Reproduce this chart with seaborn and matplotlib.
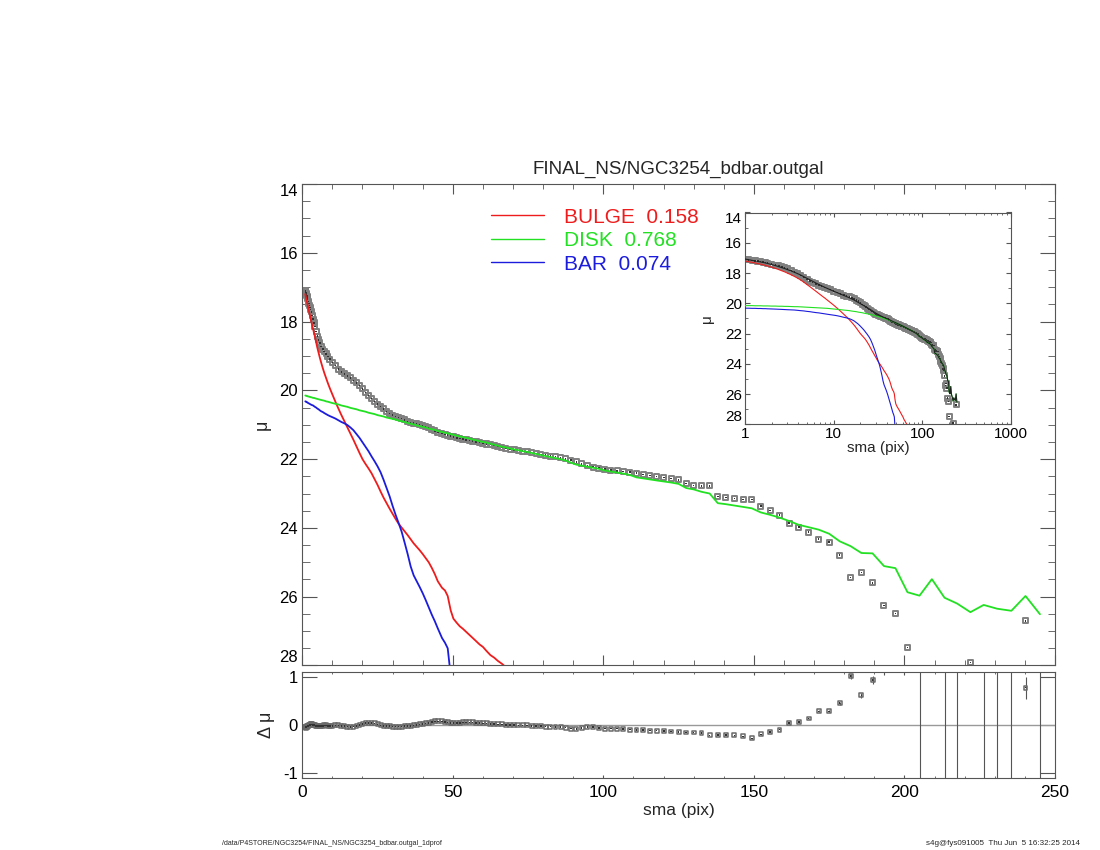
import numpy as np
import pandas as pd
import seaborn as sns
import matplotlib
matplotlib.use('Agg')
import matplotlib.pyplot as plt
from matplotlib.ticker import MultipleLocator, LogLocator, NullFormatter

sns.set_style('ticks')
plt.rcParams['font.family'] = ['Liberation Sans', 'DejaVu Sans']
plt.rcParams['axes.unicode_minus'] = False

# semi-major axis of the isophotes (pix)
sma = [
    1.0, 1.1, 1.2, 1.3, 1.4, 1.5, 1.6, 1.7, 1.8, 2.0,
    2.2, 2.4, 2.6, 2.8, 3.0, 3.3, 3.6, 3.9, 4.2, 4.6,
    5.0, 5.4, 5.8, 6.3, 6.8, 7.3, 7.9, 8.5, 9.2, 10.0,
    11, 12, 13, 14, 15, 16, 17, 18, 19, 20,
    21, 22, 23, 24, 25, 26, 27, 28, 29, 30,
    31, 32, 33, 34, 35, 36, 37, 38, 39, 40,
    41, 42, 43, 44, 45, 46.4, 47.4, 48.3, 49.3, 50.2,
    51.3, 52.3, 53.3, 54.4, 55.5, 56.6, 57.7, 58.9, 60.0, 61.2,
    62.5, 63.7, 65.0, 66.3, 67.6, 69.0, 70.4, 71.8, 73.2, 74.7,
    76.2, 77.7, 79.2, 80.8, 82.4, 84.1, 85.8, 87.5, 89.2, 91.0,
    92.8, 94.7, 96.6, 98.5, 100.5, 102.5, 104.6, 106.6, 108.8, 111.0,
    113.2, 115.4, 117.7, 120.1, 122.5, 125.0, 127.5, 130.0, 132.6, 135.3,
    138.0, 140.7, 143.5, 146.4, 149.3, 152.3, 155.4, 158.5, 161.7, 164.9,
    168.2, 171.5, 175.0, 178.5, 182.1, 185.7, 189.4, 193.2, 197.0, 201.0,
    205.0, 209.1, 213.3, 217.5, 221.9, 226.3, 230.8, 235.5, 240.2, 245.0,
]

# observed surface brightness
mu_data = [
    17.10, 17.13, 17.16, 17.19, 17.22, 17.25, 17.28, 17.31, 17.34, 17.41,
    17.47, 17.53, 17.59, 17.65, 17.72, 17.82, 17.93, 18.04, 18.15, 18.29,
    18.42, 18.53, 18.62, 18.72, 18.80, 18.87, 18.94, 19.01, 19.09, 19.19,
    19.28, 19.38, 19.46, 19.52, 19.58, 19.64, 19.71, 19.78, 19.86, 19.96,
    20.06, 20.15, 20.24, 20.32, 20.40, 20.47, 20.54, 20.61, 20.67, 20.72,
    20.76, 20.79, 20.82, 20.86, 20.90, 20.93, 20.95, 20.97, 20.99, 21.02,
    21.05, 21.09, 21.14, 21.18, 21.22, 21.25, 21.28, 21.30, 21.33, 21.35,
    21.38, 21.40, 21.42, 21.44, 21.46, 21.48, 21.50, 21.52, 21.54, 21.56,
    21.58, 21.61, 21.63, 21.66, 21.68, 21.71, 21.73, 21.75, 21.77, 21.79,
    21.81, 21.83, 21.86, 21.88, 21.91, 21.93, 21.96, 21.99, 22.03, 22.08,
    22.14, 22.19, 22.23, 22.26, 22.29, 22.32, 22.34, 22.36, 22.38, 22.41,
    22.44, 22.48, 22.51, 22.54, 22.56, 22.60, 22.71, 22.76, 22.78, 22.78,
    23.08, 23.12, 23.14, 23.18, 23.18, 23.37, 23.50, 23.63, 23.86, 23.98,
    24.12, 24.33, 24.41, 24.79, 25.44, 25.29, 25.60, 26.26, 26.49, 27.48,
    np.nan, np.nan, np.nan, np.nan, 27.91, np.nan, np.nan, np.nan, 26.70, np.nan,
]

# disk model, on the same sma grid
mu_disk = [
    20.15, 20.15, 20.15, 20.16, 20.16, 20.16, 20.17, 20.17, 20.17, 20.18,
    20.18, 20.19, 20.19, 20.20, 20.20, 20.21, 20.22, 20.22, 20.23, 20.24,
    20.25, 20.26, 20.27, 20.28, 20.29, 20.30, 20.32, 20.33, 20.35, 20.37,
    20.39, 20.41, 20.44, 20.46, 20.48, 20.51, 20.53, 20.55, 20.58, 20.60,
    20.62, 20.65, 20.67, 20.69, 20.72, 20.74, 20.76, 20.79, 20.81, 20.83,
    20.85, 20.88, 20.90, 20.92, 20.95, 20.97, 20.99, 21.02, 21.04, 21.06,
    21.08, 21.11, 21.13, 21.15, 21.18, 21.21, 21.23, 21.25, 21.27, 21.29,
    21.32, 21.34, 21.36, 21.38, 21.40, 21.43, 21.45, 21.48, 21.50, 21.52,
    21.55, 21.58, 21.61, 21.64, 21.66, 21.69, 21.72, 21.74, 21.77, 21.79,
    21.82, 21.85, 21.88, 21.91, 21.94, 21.97, 22.00, 22.04, 22.10, 22.16,
    22.19, 22.22, 22.25, 22.28, 22.33, 22.36, 22.39, 22.42, 22.46, 22.53,
    22.56, 22.59, 22.62, 22.65, 22.68, 22.72, 22.84, 22.88, 22.95, 23.00,
    23.28, 23.31, 23.35, 23.39, 23.43, 23.55, 23.62, 23.70, 23.80, 23.91,
    23.98, 24.05, 24.17, 24.39, 24.53, 24.73, 24.74, 25.11, 25.17, 25.87,
    25.97, 25.49, 26.03, 26.20, 26.45, 26.24, 26.35, 26.41, 25.98, 26.51,
]

# bulge model (first 86 sma values, fainter than the plot beyond)
mu_bulge = [
    17.20, 17.25, 17.29, 17.33, 17.37, 17.41, 17.45, 17.49, 17.53, 17.61,
    17.69, 17.77, 17.85, 17.92, 18.00, 18.11, 18.22, 18.33, 18.44, 18.60,
    18.76, 18.90, 19.04, 19.20, 19.35, 19.49, 19.64, 19.79, 19.95, 20.12,
    20.33, 20.53, 20.72, 20.90, 21.08, 21.26, 21.44, 21.63, 21.82, 22.00,
    22.14, 22.27, 22.41, 22.58, 22.75, 22.94, 23.12, 23.28, 23.44, 23.59,
    23.74, 23.88, 23.99, 24.10, 24.21, 24.33, 24.45, 24.55, 24.65, 24.76,
    24.88, 25.00, 25.16, 25.34, 25.55, 25.74, 25.82, 25.98, 26.40, 26.64,
    26.76, 26.86, 26.93, 27.02, 27.11, 27.20, 27.29, 27.39, 27.46, 27.58,
    27.70, 27.77, 27.87, 27.95, 28.05, 28.15,
]

# bar model (first 69 sma values)
mu_bar = [
    20.32, 20.32, 20.33, 20.33, 20.34, 20.34, 20.35, 20.35, 20.36, 20.37,
    20.38, 20.39, 20.40, 20.41, 20.42, 20.43, 20.44, 20.46, 20.48, 20.50,
    20.53, 20.55, 20.58, 20.61, 20.63, 20.66, 20.69, 20.72, 20.75, 20.78,
    20.82, 20.87, 20.92, 20.96, 21.01, 21.08, 21.16, 21.27, 21.38, 21.51,
    21.64, 21.77, 21.92, 22.06, 22.21, 22.38, 22.60, 22.84, 23.08, 23.36,
    23.62, 23.86, 24.11, 24.43, 24.76, 25.12, 25.38, 25.55, 25.72, 25.90,
    26.10, 26.31, 26.52, 26.71, 26.92, 27.20, 27.34, 27.50, 28.30,
]

# data - model
resid = [
    -0.04, -0.05, -0.04, -0.04, -0.03, -0.03, -0.03, -0.02, -0.02, -0.01,
    0.00, 0.01, 0.01, 0.02, 0.02, 0.02, 0.01, 0.01, 0.00, -0.01,
    -0.01, -0.02, -0.02, -0.01, -0.01, 0.00, 0.00, -0.01, -0.01, -0.01,
    0.00, 0.00, -0.01, -0.02, -0.03, -0.04, -0.03, -0.01, 0.01, 0.03,
    0.05, 0.05, 0.05, 0.04, 0.02, 0.00, -0.01, -0.02, -0.02, -0.03,
    -0.03, -0.03, -0.03, -0.02, -0.02, -0.01, 0.00, 0.01, 0.02, 0.03,
    0.04, 0.05, 0.07, 0.08, 0.08, 0.08, 0.07, 0.06, 0.05, 0.05,
    0.05, 0.05, 0.06, 0.06, 0.06, 0.06, 0.05, 0.05, 0.04, 0.04,
    0.03, 0.03, 0.02, 0.02, 0.01, 0.01, 0.01, 0.00, 0.00, 0.00,
    -0.01, -0.02, -0.02, -0.03, -0.03, -0.04, -0.04, -0.05, -0.07, -0.08,
    -0.06, -0.04, -0.04, -0.06, -0.07, -0.07, -0.07, -0.08, -0.09, -0.10,
    -0.10, -0.11, -0.11, -0.12, -0.13, -0.14, -0.15, -0.15, -0.16, -0.21,
    -0.20, -0.20, -0.21, -0.23, -0.27, -0.19, -0.14, -0.09, 0.05, 0.07,
    0.14, 0.29, 0.29, 0.46, 1.02, 0.62, 0.94, 1.15, 1.33, 1.62,
    2.0, np.nan, 2.0, 2.0, 1.46, 2.0, 2.0, 2.0, 0.78, 2.0,
]

# residual errors of the last 30 isophotes (inner ones are negligible)
resid_err_outer = [
    0.01, 0.01, 0.01, 0.01, 0.01, 0.01, 0.01, 0.01, 0.02, 0.02,
    0.02, 0.02, 0.02, 0.03, 0.05, 0.06, 0.08, 0.10, 0.10, 0.20,
    5.0, np.nan, 5.0, 5.0, 0.30, 5.0, 5.0, 5.0, 0.23, 5.0,
]

components = ['BULGE', 'DISK', 'BAR']
fractions = [0.158, 0.768, 0.074]
comp_cols = ['bulge', 'disk', 'bar']
colors = ['#ee1c1c', '#22e022', '#1c1cdc']

df = pd.DataFrame({'sma': sma, 'mu': mu_data, 'disk': mu_disk, 'resid': resid})
df['bulge'] = pd.Series(mu_bulge, dtype=float)
df['bar'] = pd.Series(mu_bar, dtype=float)

# total model = flux sum of the components
flux = sum(10 ** (-0.4 * df[c].fillna(np.inf)) for c in comp_cols)
df['total'] = -2.5 * np.log10(flux)

FRAME = '#555555'

fig = plt.figure(figsize=(11, 8.5), dpi=100)
ax = fig.add_axes([0.2748, 0.2171, 0.6843, 0.5664])
ax_res = fig.add_axes([0.2748, 0.0844, 0.6843, 0.1247])
ax_in = fig.add_axes([0.6773, 0.5006, 0.2418, 0.2494])


def draw_points(a, ycol, size, edge, lw):
    sns.scatterplot(data=df, x='sma', y=ycol, ax=a, marker='s', s=size,
                    facecolor='none', edgecolor=edge, linewidth=lw, zorder=2)
    sns.scatterplot(data=df, x='sma', y=ycol, ax=a, marker='s', s=1.2,
                    facecolor='#333333', edgecolor='none', linewidth=0, zorder=2.1)


def style_frame(a):
    for sp in a.spines.values():
        sp.set_color(FRAME)
        sp.set_linewidth(0.8)
        sp.set_visible(True)
    a.tick_params(which='both', direction='in', top=True, right=True,
                  color=FRAME, labelcolor='black')


def nudge_end_labels(a, top_txt, bottom_txt):
    # end labels are pulled inside the frame
    for lbl in a.get_yticklabels():
        if lbl.get_text() == top_txt:
            lbl.set_va('top')
        elif lbl.get_text() == bottom_txt:
            lbl.set_va('bottom')


# ---- main profile
draw_points(ax, 'mu', 13, '#808080', 1.4)
for col, name, frac, c in zip(comp_cols, components, fractions, colors):
    sns.lineplot(data=df, x='sma', y=col, ax=ax, color=c, lw=1.3,
                 estimator=None, sort=False, zorder=3,
                 label=f'{name}  {frac:.3f}')

ax.set_xlim(0, 250)
ax.set_ylim(28, 14)
ax.xaxis.set_major_locator(MultipleLocator(50))
ax.xaxis.set_minor_locator(MultipleLocator(10))
ax.yaxis.set_major_locator(MultipleLocator(2))
ax.yaxis.set_minor_locator(MultipleLocator(0.5))
style_frame(ax)
ax.tick_params(axis='x', which='major', length=6.9, labelbottom=False)
ax.tick_params(axis='x', which='minor', length=3.5)
ax.tick_params(axis='y', which='major', length=10.8, labelsize=12, pad=3)
ax.tick_params(axis='y', which='minor', length=5.4)
ax.set_xlabel('')
ax.set_ylabel('μ', fontsize=13, labelpad=6)
ax.set_title('FINAL_NS/NGC3254_bdbar.outgal', fontsize=13.5, pad=7)

leg = ax.legend(loc='upper left', bbox_to_anchor=(0.2503, 0.951), frameon=False,
                fontsize=15, handlelength=2.55, handletextpad=0.95,
                labelspacing=0.22, borderpad=0, borderaxespad=0)
for txt, c in zip(leg.get_texts(), colors):
    txt.set_color(c)
for ln in leg.get_lines():
    ln.set_linewidth(1.0)

# ---- inset, log sma
ax_in.set_facecolor('white')
draw_points(ax_in, 'mu', 13, '#808080', 1.4)
for col, c in zip(comp_cols, colors):
    sns.lineplot(data=df, x='sma', y=col, ax=ax_in, color=c, lw=0.8,
                 estimator=None, sort=False, zorder=3)
sns.lineplot(data=df, x='sma', y='total', ax=ax_in, color='#202020', lw=0.8,
             estimator=None, sort=False, zorder=4)
ax_in.set_xscale('log')
ax_in.set_xlim(1, 1000)
ax_in.set_ylim(28, 14)
ax_in.set_xticks([1, 10, 100, 1000], labels=['1', '10', '100', '1000'])
ax_in.xaxis.set_minor_locator(LogLocator(base=10, subs=range(2, 10)))
ax_in.xaxis.set_minor_formatter(NullFormatter())
ax_in.yaxis.set_major_locator(MultipleLocator(2))
ax_in.yaxis.set_minor_locator(MultipleLocator(1))
style_frame(ax_in)
ax_in.tick_params(axis='x', which='major', length=3.0, labelsize=11, pad=2)
ax_in.tick_params(axis='x', which='minor', length=1.6)
ax_in.tick_params(axis='y', which='major', length=3.8, labelsize=11, pad=2)
ax_in.tick_params(axis='y', which='minor', length=2.0)
ax_in.set_xlabel('sma (pix)', fontsize=11, labelpad=0)
ax_in.set_ylabel('μ', fontsize=11, labelpad=8)

# ---- residuals
ax_res.axhline(0, color='#999999', lw=1.0, zorder=1)
outer = df.iloc[-len(resid_err_outer):]
ax_res.errorbar(outer['sma'], outer['resid'], yerr=resid_err_outer, fmt='none',
                ecolor='#555555', elinewidth=0.8, capsize=0, zorder=2)
draw_points(ax_res, 'resid', 8, '#6a6a6a', 1.1)
ax_res.set_xlim(0, 250)
ax_res.set_ylim(-1.1, 1.1)
ax_res.xaxis.set_major_locator(MultipleLocator(50))
ax_res.xaxis.set_minor_locator(MultipleLocator(10))
ax_res.set_yticks([-1, 0, 1], labels=['-1', '0', '1'])
style_frame(ax_res)
ax_res.tick_params(axis='x', which='major', length=2.2, labelsize=12.5, pad=5)
ax_res.tick_params(axis='x', which='minor', length=1.4)
ax_res.tick_params(axis='y', which='major', length=10.8, labelsize=12, pad=3)
ax_res.set_xlabel('sma (pix)', fontsize=12.5, labelpad=2)
ax_res.set_ylabel('Δ μ', fontsize=13, labelpad=6)

fig.canvas.draw()
nudge_end_labels(ax, '14', '28')
nudge_end_labels(ax_in, '14', '28')

fig.text(0.2018, 0.0082, '/data/P4STORE/NGC3254/FINAL_NS/NGC3254_bdbar.outgal_1dprof',
         fontsize=5.0, ha='left', va='center')
fig.text(0.9818, 0.0082, 's4g@fys091005  Thu Jun  5 16:32:25 2014',
         fontsize=5.8, ha='right', va='center')

fig.savefig('out.png', dpi=100)
